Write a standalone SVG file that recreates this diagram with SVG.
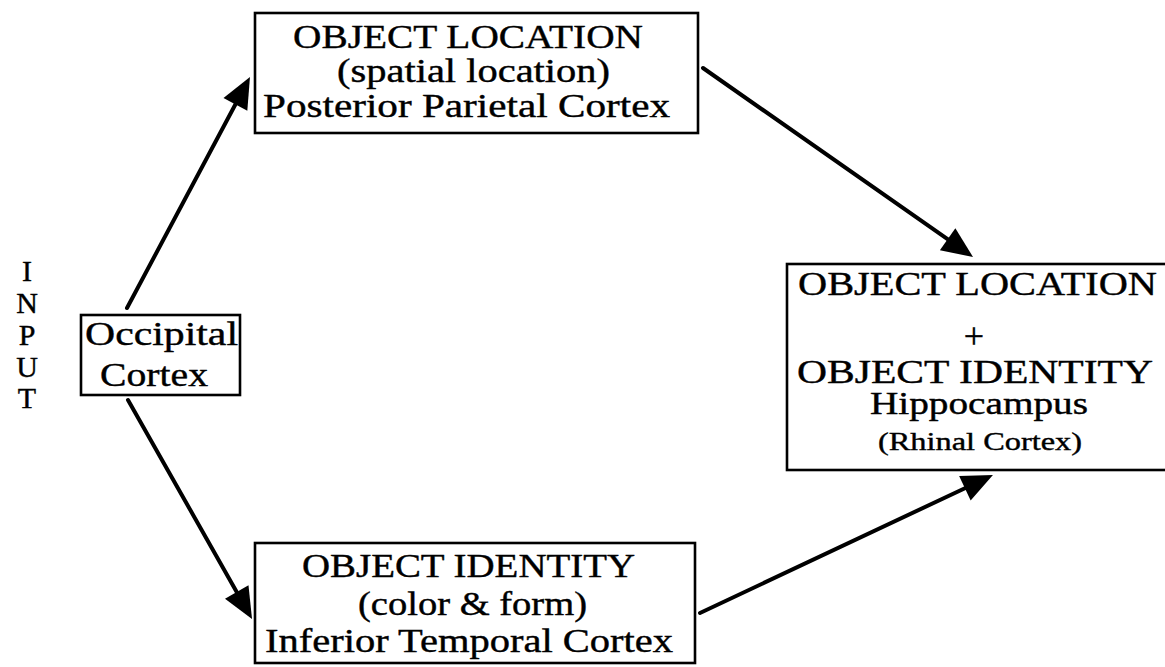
<svg xmlns="http://www.w3.org/2000/svg" width="1165" height="667" viewBox="0 0 1165 667">
<style>
.box{fill:#fff;stroke:#000;stroke-width:2.6}
.t{font-family:"Liberation Serif","Times New Roman",serif;font-size:33px;fill:#000;stroke:#000;stroke-width:0.4}
.in{font-size:30px}
.conn{fill:none;stroke:#000;stroke-width:4;stroke-linecap:round}
</style>
<defs>
<marker id="ah" markerUnits="userSpaceOnUse" markerWidth="32" markerHeight="28" refX="20" refY="13.5" orient="auto" overflow="visible">
<path d="M0,0 L31,13.5 L0,27 Z" fill="#000"/>
</marker>
</defs>
<rect width="1165" height="667" fill="#fff"/>
<g id="connectors">
<path class="conn" d="M127,308 L244.8,86.7" marker-end="url(#ah)"/>
<path class="conn" d="M128,400 L246.6,609.4" marker-end="url(#ah)"/>
<path class="conn" d="M703,68 L964,250.7" marker-end="url(#ah)"/>
<path class="conn" d="M700,613 L983,479.7" marker-end="url(#ah)"/>
</g>
<g id="input-label">
<text class="t in" x="27" y="281" text-anchor="middle">I</text>
<text class="t in" x="27" y="313" text-anchor="middle">N</text>
<text class="t in" x="27" y="345" text-anchor="middle">P</text>
<text class="t in" x="27" y="377" text-anchor="middle">U</text>
<text class="t in" x="27" y="408" text-anchor="middle">T</text>
</g>
<g id="occipital">
<rect class="box" x="81" y="315" width="159" height="80"/>
<text class="t" x="85" y="345" textLength="153" lengthAdjust="spacingAndGlyphs">Occipital</text>
<text class="t" x="100" y="386" textLength="108" lengthAdjust="spacingAndGlyphs">Cortex</text>
</g>
<g id="object-location">
<rect class="box" x="255" y="13" width="443" height="120"/>
<text class="t" x="293" y="48" textLength="350" lengthAdjust="spacingAndGlyphs">OBJECT LOCATION</text>
<text class="t" x="337" y="82" textLength="273" lengthAdjust="spacingAndGlyphs">(spatial location)</text>
<text class="t" x="263" y="117" textLength="407" lengthAdjust="spacingAndGlyphs">Posterior Parietal Cortex</text>
</g>
<g id="object-identity">
<rect class="box" x="255" y="543" width="440" height="120"/>
<text class="t" x="302" y="577" textLength="333" lengthAdjust="spacingAndGlyphs">OBJECT IDENTITY</text>
<text class="t" x="358" y="615" textLength="229" lengthAdjust="spacingAndGlyphs">(color &amp; form)</text>
<text class="t" x="265" y="652" textLength="408" lengthAdjust="spacingAndGlyphs">Inferior Temporal Cortex</text>
</g>
<g id="hippocampus">
<rect class="box" x="787" y="264" width="395" height="206"/>
<text class="t" x="798" y="295" textLength="359" lengthAdjust="spacingAndGlyphs">OBJECT LOCATION</text>
<text class="t" style="font-size:36px" x="974" y="348" text-anchor="middle">+</text>
<text class="t" x="797" y="383" textLength="356" lengthAdjust="spacingAndGlyphs">OBJECT IDENTITY</text>
<text class="t" style="font-size:31px" x="870" y="414" textLength="218" lengthAdjust="spacingAndGlyphs">Hippocampus</text>
<text class="t" style="font-size:26px" x="878" y="450" textLength="204" lengthAdjust="spacingAndGlyphs">(Rhinal Cortex)</text>
</g>
</svg>
